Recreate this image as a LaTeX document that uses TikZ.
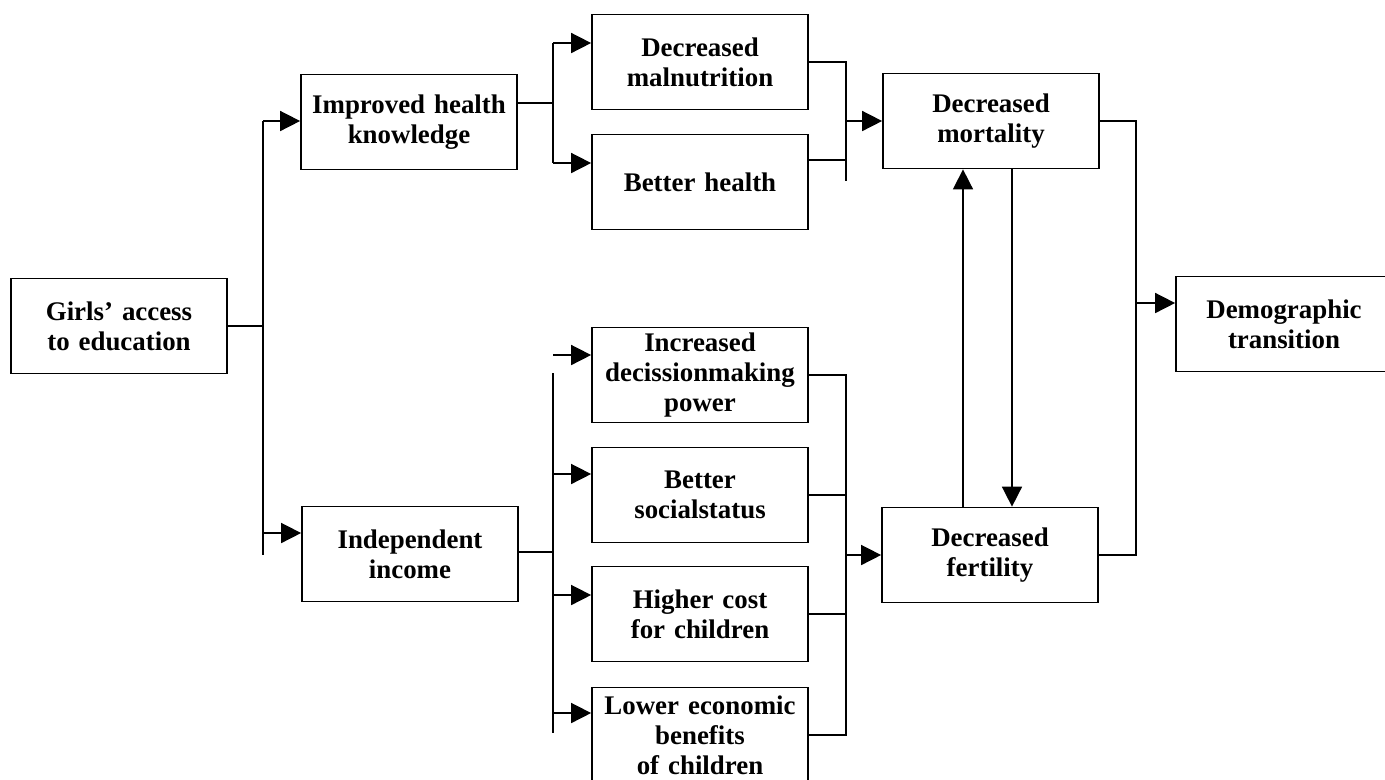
\documentclass[tikz,border=0pt]{standalone}
\usepackage{fontspec}
\setmainfont{Liberation Serif}
\usetikzlibrary{arrows.meta}
\newcommand\busx{263}
\newcommand\busy{553}
\newcommand\busz{846}

\begin{document}
\begin{tikzpicture}[x=0.02cm, y=-0.02cm,
    box/.style={draw, line width=1pt, minimum width=4.32cm, minimum height=1.9cm,
        text width=4.1cm, align=center, inner sep=0pt,
        font=\fontsize{15.3}{17}\selectfont\bfseries},
    arr/.style={-{Triangle[length=0.4cm, width=0.4cm]}},
    every path/.style={line width=0.9pt}]

    \useasboundingbox (0, 0) rectangle (1385, 779);

    % Start
    \node at (119, 326) [box] (girls) {Girls’ access\\to education};

    % Health branch
    \node at (409, 122) [box] (know) {Improved health\\knowledge};
    \node at (700, 62) [box] (malnut) {Decreased\\malnutrition};
    \node at (700, 182) [box] (health) {Better health};
    \node at (991, 121) [box] (mort) {Decreased\\mortality};

    % Income branch
    \node at (410, 554) [box] (income) {Independent\\income};
    \node at (700, 375) [box] (power) {Increased\\decissionmaking\\power};
    \node at (700, 495) [box] (status) {Better\\socialstatus};
    \node at (700, 614) [box] (cost) {Higher cost\\for children};
    \node at (700, 735) [box] (benefit) {Lower economic\\benefits\\of children};
    \node at (990, 555) [box] (fert) {Decreased\\fertility};

    % Outcome
    \node at (1284, 324) [box] (demo) {Demographic\\transition};

    % Girls split
    \coordinate (ga) at (\busx, 326);
    \coordinate (gtop) at (\busx, 121);
    \coordinate (gin) at (\busx, 533);
    \coordinate (gbot) at (\busx, 555);

    \draw (girls.east) -- (ga);
    \draw (gtop) -- (gbot);
    \draw[arr] (gtop) -- (gtop -| know.west);
    \draw[arr] (gin) -- (gin -| income.west);

    % Health split
    \coordinate (ka) at (\busy, 103);
    \coordinate (ktop) at (\busy, 43);
    \coordinate (kbot) at (\busy, 163);

    \draw (ka -| know.east) -- (ka);
    \draw (ktop) -- (kbot);
    \draw[arr] (ktop) -- (ktop -| malnut.west);
    \draw[arr] (kbot) -- (kbot -| health.west);

    \coordinate (hm) at (\busz, 121);
    \coordinate (hh) at (\busz, 160);
    \coordinate (hbot) at (\busz, 181);

    \draw (malnut.east) -- (malnut.east -| hm) -- (hbot);
    \draw (hh -| health.east) -- (hh);
    \draw[arr] (hm) -- (mort.west);

    % Income split
    \coordinate (ia) at (\busy, 552);
    \coordinate (istub) at (\busy, 355);
    \coordinate (itop) at (\busy, 373);
    \coordinate (is) at (\busy, 474);
    \coordinate (ic) at (\busy, 595);
    \coordinate (ib) at (\busy, 713);
    \coordinate (ibot) at (\busy, 733);

    \draw (ia -| income.east) -- (ia);
    \draw (itop) -- (ibot);
    \draw[arr] (istub) -- (istub -| power.west);
    \draw[arr] (is) -- (is -| status.west);
    \draw[arr] (ic) -- (ic -| cost.west);
    \draw[arr] (ib) -- (ib -| benefit.west);

    \coordinate (fa) at (\busz, 555);

    \draw (power.east) -- (power.east -| fa) -- (benefit.east -| fa) -- (benefit.east);
    \draw (status.east) -- (status.east -| fa);
    \draw (cost.east) -- (cost.east -| fa);
    \draw[arr] (fa) -- (fert.west);

    % Feedback
    \draw[arr] ([xshift=-0.54cm]fert.north) -- ([xshift=-0.54cm]fert.north |- mort.south);
    \draw[arr] ([xshift=0.42cm]mort.south) -- ([xshift=0.42cm]mort.south |- fert.north);

    % Transition
    \coordinate (da) at (1136, 303);

    \draw (mort.east) -- (mort.east -| da) -- (fert.east -| da) -- (fert.east);
    \draw[arr] (da) -- (da -| demo.west);

\end{tikzpicture}
\end{document}
